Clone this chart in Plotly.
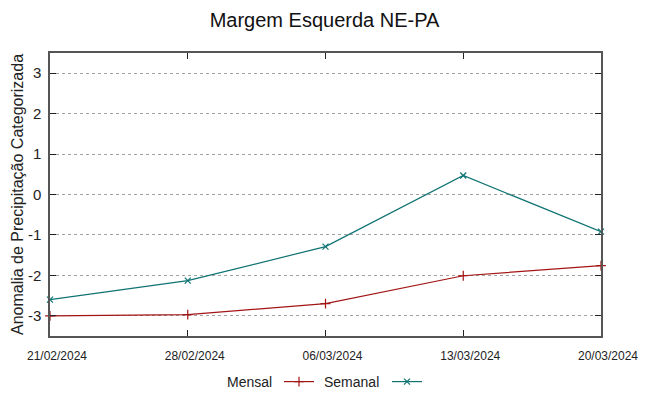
import plotly.graph_objects as go

dates = ["2024-02-21", "2024-02-28", "2024-03-06", "2024-03-13", "2024-03-20"]
mensal = [-3.0, -2.97, -2.70, -2.01, -1.76]
semanal = [-2.60, -2.13, -1.29, 0.47, -0.92]
yticks = [-3, -2, -1, 0, 1, 2, 3]
yticktext = ["-3", "-2", "-1", "0", "1", "2", "3"]

red = "#a31515"
teal = "#0f7373"
font = "Liberation Sans, Arial, sans-serif"
W, H = 649, 396

fig = go.Figure()
fig.add_trace(go.Scatter(x=dates, y=mensal, mode="lines+markers", name="", legend="legend",
                         line=dict(color=red, width=1.2),
                         marker=dict(symbol="cross-thin", size=7, line=dict(color=red, width=1.2)),
                         cliponaxis=False))
fig.add_trace(go.Scatter(x=dates, y=semanal, mode="lines+markers", name="", legend="legend2",
                         line=dict(color=teal, width=1.2),
                         marker=dict(symbol="x-thin", size=6, line=dict(color=teal, width=1.2)),
                         cliponaxis=False))

leg_common = dict(orientation="h", xanchor="left", yanchor="middle", yref="container", xref="container",
                  font=dict(size=14), bgcolor="rgba(0,0,0,0)", borderwidth=0)

fig.update_layout(
    width=W, height=H,
    margin=dict(l=50, r=48, t=53, b=60, autoexpand=False),
    paper_bgcolor="white", plot_bgcolor="white",
    font=dict(family=font, color="#222222"),
    title=dict(text="Margem Esquerda NE-PA", x=0.5, xanchor="center", xref="container",
               yref="container", y=1 - 20 / H, yanchor="middle",
               font=dict(size=20, color="#111111")),
    showlegend=True,
    hovermode=False,
    legend=dict(x=279 / W, y=1 - 382 / H, **leg_common),
    legend2=dict(x=387 / W, y=1 - 382 / H, **leg_common),
    annotations=[
        dict(text="Mensal", xref="paper", yref="paper", x=(274 - 50) / 551, y=-(382 - 336) / 283,
             xanchor="right", yanchor="middle", showarrow=False, font=dict(size=14, color="#222222")),
        dict(text="Semanal", xref="paper", yref="paper", x=(381 - 50) / 551, y=-(382 - 336) / 283,
             xanchor="right", yanchor="middle", showarrow=False, font=dict(size=14, color="#222222")),
    ],
)

fig.update_xaxes(type="date", range=[dates[0], dates[-1]], tickvals=dates,
                 tickformat="%d/%m/%Y", tickfont=dict(size=12),
                 ticklabelshift=7, ticklabelstandoff=8,
                 showgrid=False, zeroline=False, automargin=False,
                 showline=True, linecolor="#555555", linewidth=1.5, mirror="ticks",
                 ticks="inside", ticklen=6, tickcolor="#222222")
fig.update_yaxes(range=[-3.5, 3.5], tickvals=yticks, ticktext=yticktext, tickfont=dict(size=15),
                 ticklabelstandoff=4,
                 showgrid=True, gridcolor="#a0a0a0", griddash="dot", gridwidth=1,
                 zeroline=False, automargin=False,
                 showline=True, linecolor="#555555", linewidth=1.5, mirror="ticks",
                 ticks="inside", ticklen=6, tickcolor="#222222",
                 title=dict(text="Anomalia de Precipitação Categorizada", font=dict(size=16), standoff=0))

fig.write_html("out.html", config={"displayModeBar": False},
               post_script="document.body.style.margin='0px';")
